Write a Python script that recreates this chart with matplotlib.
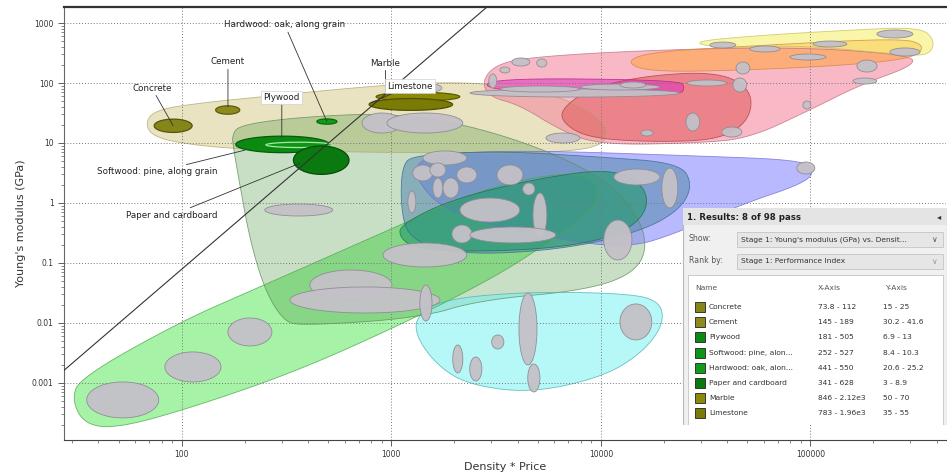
import numpy as np
import matplotlib
matplotlib.use('Agg')
import matplotlib.pyplot as plt
from matplotlib.patches import Rectangle
from matplotlib.ticker import LogLocator, FixedLocator, FuncFormatter, NullFormatter

# Stage 1 results: materials that pass, with their ranges
names = ['Concrete', 'Cement', 'Plywood', 'Softwood: pine, along grain',
         'Hardwood: oak, along grain', 'Paper and cardboard', 'Marble', 'Limestone']
short_names = ['Concrete', 'Cement', 'Plywood', 'Softwood: pine, alon...',
               'Hardwood: oak, alon...', 'Paper and cardboard', 'Marble', 'Limestone']
x_lo = [73.8, 145, 181, 252, 441, 341, 846, 783]      # density * price
x_hi = [112, 189, 505, 527, 550, 628, 2120, 1960]
y_lo = [15, 30.2, 6.9, 8.4, 20.6, 3, 50, 35]           # Young's modulus, GPa
y_hi = [25, 41.6, 13, 10.3, 25.2, 8.9, 70, 55]
sel_colors = ['#85851a', '#8e8a1e', '#0b8a12', '#0d9616', '#129a1a', '#0a7a10', '#8a8a08', '#7a7a06']
sel_edges = ['#55550a', '#5a5a0a', '#075a0a', '#a6e6a6', '#076a0a', '#064a08', '#5a5a00', '#505000']

# axis decades
x_ticks = [100, 1000, 10000, 100000]
y_ticks = [0.001, 0.01, 0.1, 1, 10, 100, 1000]

# family envelopes, outlines in log10 units (x = density*price, y = modulus)
env_tan_lx = [1.823, 1.871, 2.086, 2.372, 2.706, 3.041, 3.375, 3.709, 3.948, 4.043, 3.995, 3.709, 3.279, 2.802, 2.372, 2.086, 1.871]
env_tan_ly = [1.317, 1.55, 1.667, 1.767, 1.883, 1.983, 2.017, 1.883, 1.55, 1.217, 0.917, 0.833, 0.833, 0.85, 0.883, 0.95, 1.083]
env_foam_lx = [1.475, 1.513, 1.990, 2.372, 3.041, 3.422, 3.804, 3.995, 3.971, 3.613, 3.375, 3.041, 2.563, 2.086, 1.704, 1.537]
env_foam_ly = [-3.283, -2.917, -1.983, -1.4, -0.367, 0.217, 0.517, 0.383, -0.117, -0.983, -1.45, -2.033, -2.783, -3.367, -3.75, -3.7]
env_nat_lx = [2.239, 2.277, 2.563, 2.993, 3.375, 3.804, 4.091, 4.224, 4.186, 3.948, 3.422, 3.136, 2.563, 2.482, 2.396, 2.325, 2.277, 2.248]
env_nat_ly = [1.133, 1.3, 1.433, 1.5, 1.3, 0.8, 0.217, -0.533, -1.117, -1.45, -1.617, -1.917, -2.05, -1.95, -1.45, -0.617, 0.3, 0.883]
env_lav_lx = [3.136, 3.613, 4.473, 4.950, 5.021, 4.974, 4.663, 4.377, 4.138, 3.804, 3.279, 3.112]
env_lav_ly = [0.8, 0.883, 0.783, 0.717, 0.55, 0.333, -0.033, -0.483, -0.75, -0.617, -0.2, 0.383]
env_poly_lx = [3.050, 3.112, 3.518, 3.995, 4.377, 4.439, 4.377, 4.186, 3.804, 3.327, 3.088, 3.045]
env_poly_ly = [0.633, 0.8, 0.867, 0.767, 0.667, 0.3, -0.117, -0.483, -0.783, -0.867, -0.617, -0.117]
env_comp_lx = [3.041, 3.279, 3.661, 4.043, 4.210, 4.224, 4.091, 3.804, 3.375, 3.112, 3.041]
env_comp_ly = [-0.367, 0.05, 0.383, 0.583, 0.3, -0.15, -0.533, -0.75, -0.817, -0.75, -0.583]
env_cyan_lx = [3.112, 3.232, 3.613, 4.091, 4.282, 4.301, 4.186, 3.995, 3.661, 3.375, 3.232, 3.126]
env_cyan_ly = [-1.917, -1.617, -1.483, -1.5, -1.617, -2.033, -2.533, -2.917, -3.167, -3.033, -2.75, -2.283]
env_pink_lx = [3.432, 3.494, 3.661, 4.234, 4.950, 5.475, 5.499, 5.236, 4.998, 4.711, 4.473, 3.995, 3.804, 3.613, 3.470]
env_pink_ly = [2.017, 2.3, 2.433, 2.55, 2.6, 2.467, 2.3, 1.967, 1.55, 1.083, 1.0, 0.967, 1.217, 1.633, 1.767]
env_red_lx = [3.804, 3.948, 4.234, 4.568, 4.721, 4.711, 4.568, 4.234, 3.948, 3.828]
env_red_ly = [1.55, 1.917, 2.133, 2.183, 1.883, 1.383, 1.05, 1.017, 1.083, 1.3]
env_orange_lx = [4.115, 4.234, 4.711, 5.427, 5.547, 5.499, 5.189, 4.711, 4.234]
env_orange_ly = [2.35, 2.517, 2.617, 2.75, 2.633, 2.417, 2.3, 2.217, 2.183]
env_yellow_lx = [4.425, 4.711, 5.189, 5.523, 5.594, 5.570, 5.451, 4.950, 4.568]
env_yellow_ly = [2.683, 2.783, 2.883, 2.933, 2.717, 2.467, 2.467, 2.633, 2.583]
env_mag_lx = [3.446, 4.377, 4.401, 4.377, 3.470]
env_mag_ly = [2.083, 2.05, 1.917, 1.8, 1.85]

# other (failed) materials: log10 centre and half-widths
grey_cx = [1.718, 2.053, 2.325, 2.558, 2.807, 2.874, 3.165, 3.160, 3.652, 3.680, 3.508, 3.317, 3.403, 4.167,
           4.081, 3.255, 3.470, 3.709, 3.337, 3.580, 3.566, 3.656, 3.150, 3.222, 3.284, 3.098, 3.222, 3.360,
           4.172, 4.329, 2.955, 3.160, 3.184, 3.542, 3.618, 3.718, 3.484, 3.876, 3.709, 4.091, 4.153, 4.439,
           4.625, 3.819, 4.506, 5.403, 4.582, 4.783, 5.093, 4.988, 5.451, 5.270, 4.678, 4.663, 5.260, 4.983,
           4.978, 4.220]
grey_cy = [-3.283, -2.733, -2.15, -0.117, -1.367, -1.617, -1.667, -0.867, -2.1, -2.917, -2.317, -2.6, -2.767, -1.983,
           -0.617, 0.75, -0.117, -0.2, -0.517, -0.533, 0.467, 0.233, 0.5, 0.25, 0.25, 0.017, 0.55, 0.467,
           0.433, 0.25, 1.333, 1.333, 1.917, 2.217, 2.35, 2.333, 2.033, 1.833, 1.9, 1.933, 1.967, 1.35,
           1.183, 1.083, 2.0, 2.817, 2.633, 2.567, 2.65, 2.433, 2.517, 2.283, 2.25, 1.967, 2.033, 1.633,
           0.583, 1.167]
grey_w = [.172, .134, .105, .162, .196, .358, .029, .2, .043, .029, .029, .024, .029, .076,
          .067, .105, .143, .033, .048, .205, .062, .029, .048, .024, .038, .019, .038, .048,
          .11, .038, .095, .181, .057, .024, .043, .024, .019, .501, .191, .191, .062, .033,
          .048, .081, .095, .086, .062, .072, .081, .086, .072, .048, .033, .033, .057, .019,
          .043, .029]
grey_h = [.30, .25, .233, .1, .25, .217, .3, .2, .6, .233, .117, .233, .2, .3,
          .333, .117, .2, .367, .15, .133, .167, .1, .133, .167, .167, .183, .117, .133,
          .133, .333, .167, .167, .067, .05, .067, .067, .117, .067, .05, .05, .05, .15,
          .083, .083, .05, .067, .05, .05, .05, .05, .067, .1, .1, .117, .05, .067,
          .1, .05]

# performance index guide line: E proportional to (density*price)^3
guide_slope = 3
guide_E_at_100 = 0.079


def chaikin(lx, ly, n=3):
    p = np.column_stack([lx, ly])
    for _ in range(n):
        q = np.roll(p, -1, axis=0)
        new = np.empty((2 * len(p), 2))
        new[0::2] = 0.75 * p + 0.25 * q
        new[1::2] = 0.25 * p + 0.75 * q
        p = new
    return p[:, 0], p[:, 1]


def log_ellipse(cx, cy, w, h, n=90):
    t = np.linspace(0, 2 * np.pi, n)
    return 10 ** (cx + w * np.cos(t)), 10 ** (cy + h * np.sin(t))


fig = plt.figure(figsize=(9.47, 4.75), dpi=100)
ax = fig.add_axes([0.0676, 0.0737, 0.9314, 0.9116])
ax.set_xscale('log')
ax.set_yscale('log')
ax.set_xlim(27.4, 4.44e5)
ax.set_ylim(1.12e-4, 1850)

envelopes = [
    (env_tan_lx, env_tan_ly, '#d8cd8e', 0.55, '#b0a870'),
    (env_foam_lx, env_foam_ly, '#5ee85e', 0.55, '#4aa84a'),
    (env_nat_lx, env_nat_ly, '#3a8f34', 0.28, '#5f8f58'),
    (env_lav_lx, env_lav_ly, '#8080ff', 0.55, '#7070d0'),
    (env_poly_lx, env_poly_ly, '#5a8cb0', 0.58, '#3a6a90'),
    (env_comp_lx, env_comp_ly, '#1f9a6a', 0.6, '#1a7050'),
    (env_cyan_lx, env_cyan_ly, '#6ff0f0', 0.5, '#50b0b0'),
    (env_pink_lx, env_pink_ly, '#f58aa0', 0.6, '#c07080'),
    (env_red_lx, env_red_ly, '#e05050', 0.5, '#b04040'),
    (env_orange_lx, env_orange_ly, '#ffa850', 0.65, '#d08840'),
    (env_yellow_lx, env_yellow_ly, '#f5f070', 0.6, '#c8c060'),
    (env_mag_lx, env_mag_ly, '#e030c0', 0.55, '#b02090'),
]
for lx, ly, fc, a, ec in envelopes:
    sx, sy = chaikin(lx, ly)
    ax.fill(10 ** sx, 10 ** sy, fc=fc, alpha=a, ec='none', zorder=1)
    ax.fill(10 ** sx, 10 ** sy, fc='none', ec=ec, lw=0.6, alpha=0.8, zorder=1.1)

# failed materials
for cx, cy, w, h in zip(grey_cx, grey_cy, grey_w, grey_h):
    ex, ey = log_ellipse(cx, cy, w, h)
    ax.fill(ex, ey, fc='#c4c1c8', ec='#8e8b92', lw=0.6, alpha=0.95, zorder=3)

# selected materials, drawn from their ranges
sel_centre = []
for i in range(len(names)):
    lx0, lx1 = np.log10(x_lo[i]), np.log10(x_hi[i])
    ly0, ly1 = np.log10(y_lo[i]), np.log10(y_hi[i])
    cx, cy = (lx0 + lx1) / 2, (ly0 + ly1) / 2
    sel_centre.append((10 ** cx, 10 ** cy))
    ex, ey = log_ellipse(cx, cy, (lx1 - lx0) / 2, (ly1 - ly0) / 2)
    ax.fill(ex, ey, fc=sel_colors[i], ec=sel_edges[i], lw=0.9, zorder=4)

# guide line
gx = np.array(ax.get_xlim())
ax.plot(gx, guide_E_at_100 * (gx / 100) ** guide_slope, color='#333333', lw=0.8, zorder=5)

# labels with leader lines
lead = dict(arrowstyle='-', color='#333333', lw=0.6, shrinkA=0, shrinkB=0)
boxed = dict(boxstyle='square,pad=0.25', fc='white', ec='#d0d0d0', lw=0.5)
label_pos = [(72, 82), (166, 224), (300, 58), (76, 3.3), (310, 930), (90, 0.63), (935, 215), (1225, 89)]
label_target = [sel_centre[0], (166, 40), (300, 12.5), (200, 7.6), sel_centre[4], (366, 4.6), (940, 72), (800, 47)]
for i, name in enumerate(names):
    ax.annotate(name, xy=label_target[i], xytext=label_pos[i], fontsize=6.3, color='#222222',
                ha='center', va='center', arrowprops=lead, zorder=6,
                bbox=boxed if name in ('Plywood', 'Limestone') else None)

# axes styling
ax.xaxis.set_major_locator(FixedLocator(x_ticks))
ax.yaxis.set_major_locator(FixedLocator(y_ticks))
ax.xaxis.set_minor_locator(LogLocator(base=10, subs=np.arange(2, 10), numticks=12))
ax.yaxis.set_minor_locator(LogLocator(base=10, subs=np.arange(2, 10), numticks=12))
fmt = FuncFormatter(lambda v, _: f'{v:g}')
ax.xaxis.set_major_formatter(fmt)
ax.yaxis.set_major_formatter(fmt)
ax.xaxis.set_minor_formatter(NullFormatter())
ax.yaxis.set_minor_formatter(NullFormatter())
ax.tick_params(which='major', labelsize=5.5, labelcolor='#333333', length=4, width=0.6, color='#444444')
ax.tick_params(which='minor', length=2, width=0.5, color='#555555')
ax.set_axisbelow(False)
ax.grid(True, which='major', linestyle=(0, (1, 2)), color='#777777', lw=0.7)
ax.spines['top'].set_color('#333333')
ax.spines['top'].set_linewidth(1.6)
ax.spines['bottom'].set_color('#444444')
ax.spines['left'].set_color('#666666')
ax.spines['left'].set_linewidth(0.8)
ax.spines['right'].set_visible(False)
ax.set_xlabel('Density * Price', fontsize=8, color='#333333', labelpad=2)
ax.set_ylabel("Young's modulus (GPa)", fontsize=8, color='#333333', labelpad=4)

# results panel
pax = fig.add_axes([0.7212, 0.1053, 0.2788, 0.4568])
pax.set_xlim(0, 264)
pax.set_ylim(217, 0)
pax.axis('off')
pax.add_patch(Rectangle((0, 0), 264, 217, fc='#f0f0f0', ec='#b8b8b8', lw=0.8))
pax.add_patch(Rectangle((0, 0), 264, 17, fc='#e4e4e4', ec='none'))
pax.text(4, 9, '1. Results: 8 of 98 pass', fontsize=6.2, fontweight='bold', va='center', color='#222222')
pax.text(256, 9, '\u25c2', fontsize=6, va='center', ha='center', color='#333333')
pax.text(6, 31, 'Show:', fontsize=5.6, va='center', color='#555555')
pax.add_patch(Rectangle((54, 24), 206, 15, fc='#e6e6e6', ec='#c4c4c4', lw=0.6))
pax.text(58, 31.5, "Stage 1: Young's modulus (GPa) vs. Densit...", fontsize=5.4, va='center', color='#333333')
pax.text(252, 31.5, '\u2228', fontsize=5.6, va='center', ha='center', color='#555555')
pax.text(6, 53, 'Rank by:', fontsize=5.6, va='center', color='#555555')
pax.add_patch(Rectangle((54, 46), 206, 15, fc='#e6e6e6', ec='#c4c4c4', lw=0.6))
pax.text(58, 53.5, 'Stage 1: Performance Index', fontsize=5.4, va='center', color='#333333')
pax.text(252, 53.5, '\u2228', fontsize=5.6, va='center', ha='center', color='#999999')
pax.add_patch(Rectangle((5, 67), 255, 150, fc='white', ec='#c4c4c4', lw=0.6))
pax.text(12, 80, 'Name', fontsize=5.4, va='center', color='#555555')
pax.text(135, 80, 'X-Axis', fontsize=5.4, va='center', color='#555555')
pax.text(202, 80, 'Y-Axis', fontsize=5.4, va='center', color='#555555')


def fmt_range(v):
    return f'{v / 1000:.3g}e3' if v >= 1000 else f'{v:.3g}'


for i in range(len(names)):
    ry = 99 + 15.2 * i
    pax.add_patch(Rectangle((12, ry - 5), 10, 10, fc=sel_colors[i], ec='#222222', lw=0.6))
    pax.text(26, ry, short_names[i], fontsize=5.4, va='center', color='#333333')
    pax.text(135, ry, f'{fmt_range(x_lo[i])} - {fmt_range(x_hi[i])}', fontsize=5.4, va='center', color='#333333')
    pax.text(200, ry, f'{fmt_range(y_lo[i])} - {fmt_range(y_hi[i])}', fontsize=5.4, va='center', color='#333333')

fig.savefig('out.png', dpi=100)
